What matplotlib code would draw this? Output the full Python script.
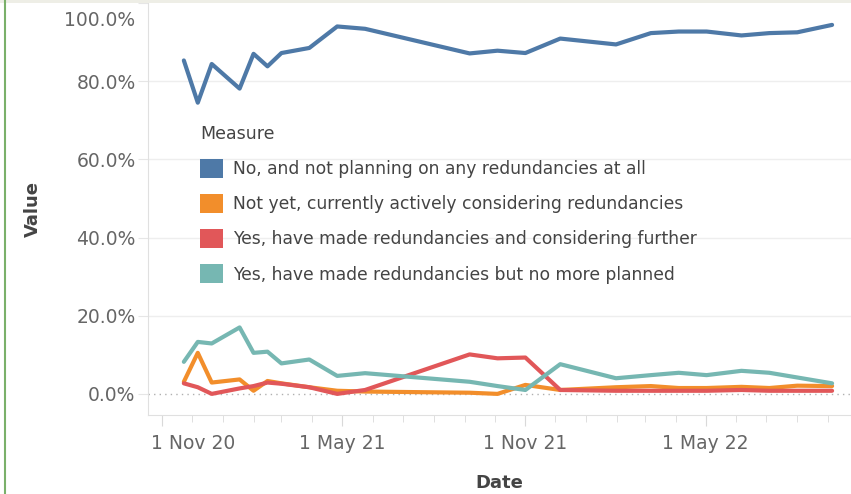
import numpy as np
import pandas as pd
import matplotlib
matplotlib.use('Agg')
import matplotlib.pyplot as plt
import matplotlib.dates as mdates
import matplotlib.transforms as mtrans
from matplotlib.patches import Patch, Rectangle
from matplotlib.lines import Line2D

plt.rcParams['font.family'] = ['DejaVu Sans']

# survey waves
dates = pd.to_datetime([
    '2020-11-23', '2020-12-07', '2020-12-21', '2021-01-18', '2021-02-01',
    '2021-02-15', '2021-03-01', '2021-03-29', '2021-04-26', '2021-05-24',
    '2021-09-06', '2021-10-04', '2021-11-01', '2021-12-06', '2022-01-31',
    '2022-03-07', '2022-04-04', '2022-05-02', '2022-06-06', '2022-07-04',
    '2022-08-01', '2022-09-05'])

no_plans = [85.3, 74.5, 84.4, 78.1, 87.0, 83.8, 87.2, 88.5, 94.0, 93.4,
            87.1, 87.8, 87.2, 90.9, 89.4, 92.3, 92.7, 92.7, 91.7, 92.3,
            92.5, 94.4]
not_yet = [3.1, 10.5, 2.9, 3.7, 0.8, 3.3, 2.7, 1.7, 0.8, 0.6,
           0.3, 0.0, 2.3, 1.0, 1.7, 2.0, 1.5, 1.5, 1.8, 1.5,
           2.1, 2.0]
yes_further = [2.7, 1.7, 0.0, 1.4, 2.0, 2.9, 2.6, 1.7, 0.0, 1.0,
               10.1, 9.1, 9.3, 1.0, 0.8, 0.8, 0.8, 0.8, 1.0, 0.8,
               0.8, 0.8]
yes_no_more = [8.2, 13.3, 12.9, 17.0, 10.5, 10.8, 7.8, 8.8, 4.6, 5.3,
               3.1, 2.0, 1.0, 7.6, 4.0, 4.8, 5.4, 4.8, 5.9, 5.4,
               4.2, 2.7]

labels = ['No, and not planning on any redundancies at all',
          'Not yet, currently actively considering redundancies',
          'Yes, have made redundancies and considering further',
          'Yes, have made redundancies but no more planned']
colors = ['#4e79a7', '#f28e2b', '#e15759', '#76b7b2']
series = [no_plans, not_yet, yes_further, yes_no_more]

W, H = 851, 494
fig = plt.figure(figsize=(W / 100, H / 100), dpi=100)
ax = fig.add_axes([148 / W, 79 / H, (W - 148) / W, 412 / H])

for vals, c in zip(series, colors):
    ax.plot(dates, np.array(vals) / 100, color=c, lw=3, solid_capstyle='round',
            solid_joinstyle='round')

ax.set_ylim(-0.054, 0.996)
ax.set_xlim(pd.Timestamp('2020-10-18'), pd.Timestamp('2022-09-24'))

ax.set_yticks([0, 0.2, 0.4, 0.6, 0.8, 1.0])
ax.set_yticklabels(['0.0%', '20.0%', '40.0%', '60.0%', '80.0%', '100.0%'])
ax.axhline(0, color='#b0b0b0', lw=1, ls=(0, (1, 3)), zorder=0)
for y in [0.2, 0.4, 0.6, 0.8]:
    ax.axhline(y, color='#eeeeee', lw=1, zorder=0)

ax.xaxis.set_major_locator(mdates.MonthLocator(bymonth=[5, 11]))
ax.xaxis.set_minor_locator(mdates.MonthLocator())
ax.xaxis.set_major_formatter(mdates.DateFormatter('1 %b %y'))

ax.tick_params(axis='x', which='both', colors='#d9d9d9', labelcolor='#666666',
               labelsize=13.5, direction='out')
ax.tick_params(axis='x', which='major', length=8, pad=6)
ax.tick_params(axis='x', which='minor', length=5)
ax.tick_params(axis='y', colors='#e6e6e6', labelcolor='#666666', labelsize=13.5,
               length=7, pad=2)

for s in ['top', 'right']:
    ax.spines[s].set_visible(False)
for s in ['left', 'bottom']:
    ax.spines[s].set_color('#e0e0e0')

fig.canvas.draw()
first = ax.get_xticklabels()[0]
first.set_ha('left')
first.set_transform(first.get_transform() +
                    mtrans.ScaledTranslation(-0.11, 0, fig.dpi_scale_trans))
top = ax.get_yticklabels()[-1]
top.set_transform(top.get_transform() +
                  mtrans.ScaledTranslation(0, -0.16, fig.dpi_scale_trans))

ax.set_ylabel('Value', fontsize=13, color='#444444', fontweight='bold', va='center')
ax.yaxis.set_label_coords((33 - 148) / 703, 0.5)
ax.set_xlabel('Date', fontsize=13, color='#444444', fontweight='bold', va='center')
ax.xaxis.set_label_coords(0.5, (11 - 79) / 412)

handles = [Patch(facecolor=c, edgecolor='none') for c in colors]
leg = ax.legend(handles, labels, loc='upper left',
                bbox_to_anchor=(193 / W, (H - 118) / H),
                bbox_transform=fig.transFigure, frameon=False, fontsize=12.3,
                title='Measure', title_fontsize=12.5, alignment='left',
                handlelength=1.35, handleheight=1.35, labelspacing=0.93,
                handletextpad=0.58, borderaxespad=0)
for t in leg.get_texts():
    t.set_color('#444444')
leg.get_title().set_color('#444444')

# frame decorations of the dashboard
fig.add_artist(Rectangle((0, (H - 3) / H), 1, 3 / H, transform=fig.transFigure,
                         facecolor='#eeeee6', edgecolor='none'))
fig.add_artist(Line2D([5 / W, 5 / W], [0, 1], transform=fig.transFigure,
                      color='#7ab06a', lw=1.5))

fig.savefig('out.png', dpi=100)
